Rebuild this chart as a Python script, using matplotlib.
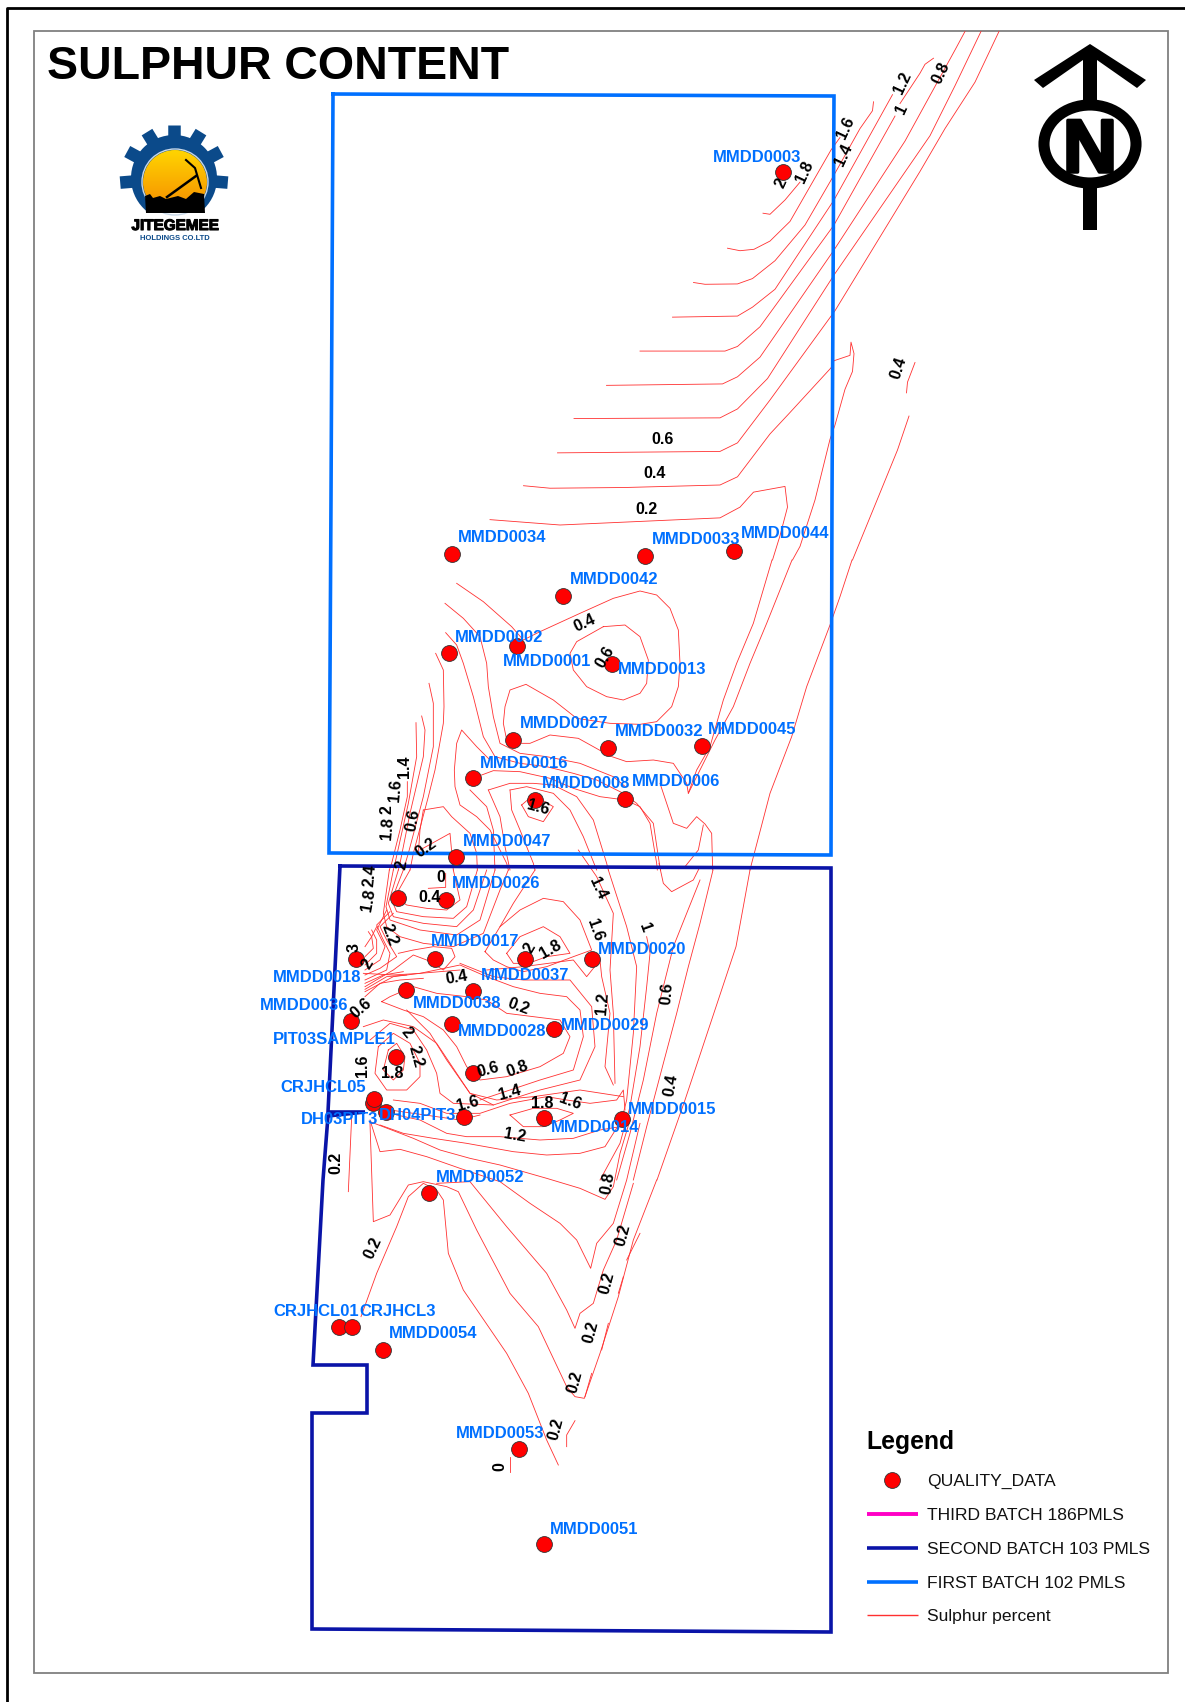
import numpy as np
import matplotlib
matplotlib.use("Agg")
import matplotlib.pyplot as plt
import matplotlib.patheffects as pe
from matplotlib.colors import LinearSegmentedColormap
from matplotlib.patches import Ellipse, Polygon, Rectangle, Circle
from matplotlib.lines import Line2D

plt.rcParams['font.family'] = ['Liberation Sans', 'DejaVu Sans']

# drill holes, picture pixels
hole_x = [783, 452, 645, 734, 563, 517, 449, 612, 513, 608, 702, 473, 535, 625, 456, 398, 446, 435, 525, 592, 356,
          406, 473, 351, 452, 554, 396, 473, 373, 374, 386, 464, 544, 622, 429, 339, 352, 383, 519, 544]
hole_y = [172, 554, 556, 551, 596, 646, 653, 664, 740, 748, 746, 778, 800, 799, 857, 898, 900, 959, 959, 959, 959,
          990, 991, 1021, 1024, 1029, 1057, 1073, 1103, 1099, 1112, 1117, 1118, 1119, 1193, 1327, 1327, 1350, 1449, 1544]

hole_names = ["MMDD0003", "MMDD0034", "MMDD0033", "MMDD0044", "MMDD0042", "MMDD0002", "MMDD0001", "MMDD0013",
              "MMDD0027", "MMDD0032", "MMDD0045", "MMDD0016", "MMDD0008", "MMDD0006", "MMDD0047", "MMDD0026",
              "MMDD0017", "MMDD0020", "MMDD0018", "MMDD0037", "MMDD0038", "MMDD0036", "MMDD0028", "MMDD0029",
              "PIT03SAMPLE1", "CRJHCL05", "DH03PIT3", "DH04PIT3", "MMDD0015", "MMDD0014", "MMDD0052", "CRJHCL01",
              "CRJHCL3", "MMDD0054", "MMDD0053", "MMDD0051"]
name_x = [713, 458, 652, 741, 570, 455, 503, 618, 520, 615, 708, 480, 542, 632, 463, 452, 431, 598, 273, 481, 413,
          260, 458, 561, 273, 280, 301, 379, 628, 551, 436, 273, 359, 389, 456, 550]
name_y = [157, 538, 540, 534, 580, 638, 662, 670, 723, 732, 729, 763, 784, 782, 841, 884, 942, 950, 977, 976, 1003,
          1005, 1032, 1025, 1040, 1088, 1120, 1116, 1109, 1128, 1178, 1311, 1311, 1334, 1433, 1529]

# contour labels: text, x, y, angle
contour_text = ["0.6", "0.4", "0.2", "0.8", "1.2", "1", "1.6", "1.4", "1.8", "2", "0.4",
                "0.4", "0.6", "1.6", "1.4", "1.6", "2", "1.8", "0.6", "0.2",
                "2", "2.4", "1.8", "0", "0.4", "1.4", "1.6", "1", "2.2", "3", "2", "2", "1.8",
                "0.4", "0.2", "1.2", "0.6", "0.6", "2", "2.2", "1.8", "1.6", "0.6", "0.8", "0.4",
                "1.4", "1.6", "1.8", "1.6", "1.2",
                "0.2", "0.8", "0.2", "0.2", "0.2", "0.2", "0.2", "0.2", "0"]
contour_x = [663, 655, 646, 941, 903, 902, 846, 844, 805, 781, 899,
             585, 605, 538, 404, 395, 387, 387, 413, 426,
             402, 370, 369, 441, 430, 598, 595, 645, 390, 354, 368, 530, 550,
             457, 518, 602, 667, 361, 407, 416, 392, 363, 488, 517, 671,
             510, 468, 542, 570, 515,
             336, 608, 623, 373, 607, 591, 575, 556, 500]
contour_y = [439, 474, 509, 73, 83, 109, 128, 155, 172, 183, 368,
             623, 657, 808, 767, 790, 810, 828, 820, 848,
             865, 875, 900, 877, 897, 888, 930, 928, 935, 948, 964, 948, 950,
             978, 1007, 1003, 993, 1008, 1033, 1057, 1074, 1066, 1070, 1069, 1085,
             1093, 1104, 1104, 1102, 1136,
             1163, 1183, 1235, 1248, 1283, 1332, 1382, 1429, 1467]
contour_rot = [0, 0, 0, 65, 65, 65, 65, 65, 65, 65, 72,
               25, 60, -15, 90, 85, 90, 85, 80, 35,
               80, 85, 80, 0, 0, -65, -70, -70, -70, 90, 60, 60, 30,
               10, -20, 85, 85, 40, -50, -75, 0, 90, 15, 20, 80,
               15, 15, 0, -20, -10,
               90, 80, 75, 65, 75, 75, 75, 75, 90]

# batch outlines
first_batch = [(333, 94), (834, 96), (832, 500), (831, 855), (329, 853), (331, 500), (333, 94)]
second_batch = [(340, 866), (831, 868), (831, 1632), (312, 1629), (312, 1413), (367, 1413), (367, 1365), (313, 1365),
                (323, 1180), (328, 1116), (365, 1112), (328, 1112), (340, 866)]

# sulphur contours
lines_top = [
    [(180, 1455), (320, 1470), (480, 1460), (640, 1450), (680, 1420), (707, 1378), (770, 1362), (775, 1420), (760, 1500), (745, 1568)],
    [(247, 1360), (300, 1367), (450, 1365), (640, 1358), (675, 1335), (740, 1215), (780, 1155), (862, 1030), (868, 1010), (900, 995), (902, 958), (908, 990), (905, 1040), (890, 1090), (870, 1190), (860, 1230), (830, 1400), (800, 1530), (785, 1568)],
    [(315, 1268), (640, 1264), (675, 1240), (740, 1120), (870, 870), (1040, 480), (1090, 360), (1150, 230), (1198, 88)],
    [(348, 1172), (640, 1170), (675, 1145), (735, 1060), (868, 770), (1060, 380), (1110, 240), (1162, 88)],
    [(413, 1079), (645, 1075), (675, 1055), (720, 1000), (868, 700), (1010, 395), (1110, 140), (1130, 88)],
    [(480, 983), (650, 983), (675, 970), (720, 915), (868, 630), (990, 325)],
    [(1000, 290), (1040, 205), (1050, 180), (1067, 163)],
    [(545, 888), (675, 885), (705, 860), (750, 810), (868, 560), (985, 265)],
    [(587, 791), (610, 796), (675, 795), (705, 780), (750, 730), (810, 630), (868, 490), (920, 360), (945, 310), (947, 285)],
    [(655, 695), (680, 702), (708, 698), (740, 675), (780, 620), (862, 420), (880, 385)],
    [(726, 597), (740, 600), (770, 560), (800, 510)],
    [(1030, 1015), (1015, 1070), (1013, 1100)],
    [(1018, 1165), (995, 1260), (960, 1380), (905, 1568)],
]
lines_mid = [
    [(1356, 90), (1300, 280), (1250, 400), (1210, 510), (1170, 650), (1130, 720), (1105, 790), (1100, 760), (1060, 700), (1000, 690), (920, 695), (870, 678), (820, 650), (775, 625), (690, 615), (630, 640), (595, 640)],
    [(1416, 90), (1340, 280), (1290, 400), (1240, 530), (1185, 630), (1130, 740), (1105, 790)],
    [(410, 160), (490, 215), (575, 290), (610, 330), (660, 305), (780, 250), (880, 205), (960, 183), (1010, 195), (1050, 235), (1075, 300), (1080, 400), (1075, 470), (1055, 530), (1010, 575), (960, 583), (870, 580), (770, 565), (700, 510), (618, 463), (570, 480), (555, 530), (550, 580), (560, 630)],
    [(850, 290), (915, 285), (960, 320), (985, 390), (980, 460), (960, 490), (910, 510), (860, 500), (800, 470), (760, 420), (750, 370), (770, 335), (850, 290)],
    [(375, 220), (430, 265), (480, 320), (500, 400), (505, 470), (520, 560), (540, 640), (600, 670), (680, 680), (780, 700), (880, 740), (916, 770)],
    [(377, 308), (410, 345), (430, 400), (460, 500), (490, 620), (525, 680), (600, 700), (680, 710), (760, 730), (830, 750), (910, 790), (950, 820), (1000, 880), (1018, 1000), (1022, 1020)],
    [(347, 370), (370, 420), (372, 530), (370, 580), (345, 720), (325, 800), (280, 970), (270, 1020)],
    [(327, 460), (340, 520), (340, 650), (310, 800), (265, 970), (250, 1020)],
    [(305, 558), (315, 600), (310, 680), (270, 850), (240, 1000), (235, 1020)],
    [(288, 578), (290, 680), (265, 820), (225, 1000), (220, 1020)],
    [(262, 755), (262, 800), (240, 900), (215, 1000), (208, 1020)],
    [(510, 690), (470, 650), (425, 600), (410, 640), (403, 720), (405, 770), (420, 825), (470, 860), (510, 900), (560, 1000), (565, 1020)],
    [(458, 745), (520, 722), (600, 725), (690, 745), (760, 775), (840, 800), (916, 810), (960, 830), (990, 880), (1010, 1000), (1012, 1020)],
    [(450, 780), (500, 830), (520, 900), (525, 1020)],
    [(505, 780), (570, 760), (640, 760), (700, 765), (770, 800), (820, 870), (860, 1000), (865, 1020)],
    [(505, 780), (540, 860), (555, 950), (570, 1020)],
    [(570, 780), (620, 770), (700, 790), (750, 840), (790, 920), (830, 1020)],
    [(570, 780), (575, 840), (600, 900), (640, 1000), (645, 1020)],
    [(605, 825), (640, 795), (700, 830), (670, 875), (625, 860), (605, 825)],
    [(1020, 760), (1040, 820), (1060, 880), (1100, 895), (1130, 860), (1155, 882), (1175, 910), (1178, 1020)],
    [(1150, 885), (1135, 960), (1095, 1010)],
    [(310, 840), (370, 830), (395, 860), (450, 910), (470, 970), (472, 1020)],
    [(310, 840), (300, 900), (295, 970)],
    [(300, 960), (390, 910), (400, 1020)],
    [(1596, 90), (1560, 200), (1530, 285), (1460, 470), (1415, 620), (1350, 790), (1295, 1000), (1290, 1020)],
]
lines_low = [
    [(1410, 270), (1368, 500), (1215, 960), (1131, 1200)],
    [(1299, 270), (1260, 430), (1225, 560), (1190, 700), (1150, 850), (1100, 1040), (1060, 1200)],
    [(1260, 300), (1180, 500), (1130, 700), (1090, 900), (1050, 1060), (1010, 1200)],
    [(1100, 470), (1110, 520), (1100, 620), (1080, 800), (1050, 980), (1020, 1090), (960, 1200)],
    [(985, 270), (1040, 440), (1070, 560), (1060, 760), (1040, 960), (1030, 1000)],
    [(895, 210), (950, 290), (1000, 400), (990, 570), (1000, 700), (1005, 910)],
    [(1137, 250), (1150, 310), (1175, 335), (1240, 300), (1260, 260)],
    [(680, 520), (720, 470), (790, 440), (840, 470), (870, 520), (800, 530), (745, 550), (700, 550), (680, 520)],
    [(615, 515), (660, 440), (720, 390), (790, 355), (850, 365), (900, 420), (935, 510), (880, 530), (800, 560), (730, 575), (680, 560), (640, 540), (615, 515)],
    [(765, 270), (700, 370), (660, 440)],
    [(390, 270), (345, 350), (380, 375), (440, 385), (500, 390), (540, 360), (520, 270)],
    [(370, 270), (335, 360), (350, 395), (430, 410), (520, 415), (560, 380), (592, 270)],
    [(355, 270), (325, 370), (340, 410), (430, 430), (530, 440), (580, 390), (620, 270)],
    [(340, 270), (318, 380), (330, 420), (420, 450), (530, 465), (600, 420), (645, 270)],
    [(445, 325), (497, 322), (497, 280)],
    [(328, 270), (310, 400), (320, 440), (360, 470), (430, 490), (520, 500), (610, 460), (660, 330), (685, 270)],
    [(355, 520), (400, 510), (460, 500), (515, 505), (525, 530), (490, 570), (440, 540), (400, 525), (340, 570), (255, 620)],
    [(255, 585), (300, 565), (350, 530), (320, 480), (300, 440), (340, 400)],
    [(255, 600), (320, 570), (330, 520), (305, 470), (290, 435), (330, 395)],
    [(255, 570), (300, 540), (315, 500), (290, 450), (320, 390)],
    [(255, 555), (290, 520), (290, 480), (275, 450)],
    [(255, 530), (280, 505), (275, 470), (265, 455)],
    [(255, 500), (275, 470), (290, 440)],
    [(255, 610), (310, 585), (370, 575)],
    [(255, 628), (320, 590), (380, 585)],
    [(255, 635), (340, 590), (420, 580), (540, 570)],
    [(255, 650), (300, 610), (360, 600), (430, 595)],
    [(250, 580), (340, 585), (420, 580), (540, 555), (620, 590), (700, 620), (780, 640), (860, 650), (900, 690), (910, 770), (880, 870), (780, 900), (600, 960)],
    [(305, 665), (330, 650), (400, 620), (470, 640), (560, 650), (620, 660), (680, 700), (760, 710), (840, 720), (870, 770), (850, 820), (780, 860), (680, 890), (600, 900), (560, 860), (530, 800), (490, 750), (430, 710), (370, 690), (305, 665)],
    [(540, 550), (640, 590), (730, 600), (870, 600), (935, 680), (945, 800), (900, 900), (780, 930), (640, 975), (570, 940), (500, 840), (450, 760), (380, 690)],
    [(620, 570), (730, 560), (880, 540), (920, 590), (960, 540), (965, 590), (990, 700), (975, 860), (1000, 915)],
    [(325, 810), (350, 790), (375, 830), (370, 870), (340, 900), (310, 870), (325, 810)],
    [(295, 800), (340, 760), (390, 790), (420, 850), (420, 890), (380, 930), (320, 930), (285, 880), (295, 800)],
    [(270, 780), (330, 730), (400, 750), (440, 810), (470, 880), (480, 940), (520, 970), (640, 975)],
    [(250, 740), (310, 720), (400, 740), (470, 790), (530, 880), (570, 940), (650, 960), (760, 950), (900, 930), (1030, 950)],
    [(340, 960), (420, 970), (500, 1000), (600, 1000), (690, 970), (800, 950), (860, 960), (930, 970), (1010, 960), (1030, 930), (1035, 990)],
    [(690, 1005), (760, 985), (830, 985), (880, 1000), (840, 1020), (790, 1040), (730, 1040), (690, 1005)],
    [(330, 990), (400, 1000), (470, 1010), (540, 1020), (600, 1005)],
    [(350, 1005), (420, 1020), (500, 1060), (560, 1070), (660, 1070), (780, 1080), (880, 1075), (960, 1050), (1020, 1040)],
]
lines_south = [
    [(300, 75), (370, 100), (460, 115), (560, 130), (700, 155), (800, 165), (900, 160), (975, 140), (1000, 100), (1025, 60)],
    [(270, 65), (400, 115), (480, 150), (570, 175), (660, 195), (800, 235), (900, 265), (975, 298), (1000, 260), (1020, 160), (1050, 60)],
    [(270, 60), (300, 155), (360, 148), (440, 170), (540, 205), (660, 245), (750, 310), (840, 370), (890, 420), (932, 505), (950, 430), (1000, 370), (1040, 240), (1080, 70)],
    [(270, 70), (280, 365), (330, 345), (385, 255), (430, 245), (500, 260), (535, 275), (590, 390), (690, 580), (775, 680), (860, 860), (885, 890), (913, 895), (960, 760), (1015, 590), (1060, 420), (1130, 240)],
    [(470, 250), (570, 245), (680, 380), (800, 520), (860, 630), (885, 685), (900, 640), (940, 610), (970, 510), (1010, 420), (1060, 250)],
    [(243, 650), (290, 520), (350, 380), (385, 290), (430, 250), (470, 270), (490, 300), (505, 460), (550, 570), (680, 760), (745, 880), (800, 1020), (835, 1095)],
    [(885, 962), (860, 1005), (860, 1040)],
    [(690, 1070), (690, 1115)],
    [(215, 50), (205, 275)],
    [(1080, 400), (1040, 480)],
    [(1030, 530), (1015, 580)],
    [(985, 670), (965, 750)],
    [(935, 820), (915, 890)],
]

legend_names = ["QUALITY_DATA", "THIRD BATCH 186PMLS", "SECOND BATCH 103 PMLS", "FIRST BATCH 102 PMLS", "Sulphur percent"]
legend_y = [1481, 1515, 1549, 1583, 1616]

BLUE = "#0070FF"
NAVY = "#0A14A8"
RED = "#FF3030"

fig = plt.figure(figsize=(11.85, 17.02), dpi=100)
ax = fig.add_axes([0, 0, 1, 1])
ax.set_axis_off()

# frames
ax.plot([7, 7, 1185], [1702, 8, 8], color="black", lw=2)
ax.add_patch(Rectangle((34, 31), 1134, 1642, fill=False, ec="#808080", lw=1.3))

ax.text(47, 67, "SULPHUR CONTENT", fontsize=33.5, fontweight="bold", va="center", ha="left")

# contours
for group, x0, y0, sx, sy in [(lines_top, 400, 0, 2, 2.8), (lines_mid, 320, 530, 3, 3),
                              (lines_low, 280, 780, 3, 3), (lines_south, 280, 1100, 3, 3)]:
    for seg in group:
        pts = np.array(seg, dtype=float)
        ax.plot(x0 + pts[:, 0] / sx, y0 + pts[:, 1] / sy, color=RED, lw=0.6, zorder=2)

# batches
xs, ys = zip(*first_batch)
ax.plot(xs, ys, color=BLUE, lw=2.6, solid_joinstyle="miter", zorder=3)
xs, ys = zip(*second_batch)
ax.plot(xs, ys, color=NAVY, lw=2.6, solid_joinstyle="miter", zorder=3)

ax.scatter(hole_x, hole_y, s=130, c="#FF0000", edgecolors="#333333", linewidths=0.6, zorder=4)

for t, x, y, r in zip(contour_text, contour_x, contour_y, contour_rot):
    ax.text(x, y, t, fontsize=11.5, fontweight="bold", rotation=r, ha="center", va="center", color="black", zorder=5)

for t, x, y in zip(hole_names, name_x, name_y):
    ax.text(x, y, t, fontsize=12, fontweight="bold", ha="left", va="center", color=BLUE, zorder=6)

# north arrow
ax.add_patch(Polygon([(1090, 44), (1146, 80), (1137, 88), (1097, 60), (1097, 105), (1083, 105), (1083, 60),
                      (1043, 88), (1034, 80)], closed=True, fc="black", ec="none"))
ax.add_patch(Rectangle((1083, 180), 14, 50, fc="black", ec="none"))
ax.add_patch(Ellipse((1090, 144), 92, 78, fc="white", ec="black", lw=8))
ax.text(1090, 145, "N", fontsize=54, fontweight="bold", ha="center", va="center_baseline", color="black",
        path_effects=[pe.withStroke(linewidth=2.5, foreground="black")])

# logo
gear = "#0B4A8A"
for ang in [90, 60, 120, 30, 150, -5, 185]:
    a = np.deg2rad(ang)
    ax.plot([174 + 38 * np.cos(a), 174 + 54 * np.cos(a)], [178 - 38 * np.sin(a), 178 - 53 * np.sin(a)],
            color=gear, lw=9, solid_capstyle="butt", zorder=1)
ax.add_patch(Circle((174, 178), 43, fc=gear, ec="none", zorder=1))
ax.add_patch(Rectangle((115, 213), 120, 30, fc="white", ec="none", zorder=1.5))
ax.add_patch(Ellipse((175, 182), 66, 66, fc="none", ec="#C8D8E8", lw=1, zorder=2))
grad = np.linspace(0, 1, 64).reshape(-1, 1)
im = ax.imshow(grad, extent=(141, 209, 213, 150), cmap=LinearSegmentedColormap.from_list("sun", ["#FFD400", "#F58A00"]),
               aspect="auto", zorder=2)
im.set_clip_path(Ellipse((175, 182), 64, 64, transform=ax.transData))
ax.add_patch(Polygon([(145, 196), (150, 194), (153, 198), (160, 196), (166, 199), (178, 196), (186, 199), (194, 192),
                      (204, 194), (205, 213), (146, 213)], closed=True, fc="black", ec="none", zorder=3))
ax.plot([167, 196], [197, 176], color="black", lw=1.8, zorder=3)
ax.plot([186, 195, 201], [160, 168, 188], color="black", lw=1.5, zorder=3)
ax.text(175, 226, "JITEGEMEE", fontsize=11, fontweight="bold", ha="center", va="center", color="black",
        path_effects=[pe.withStroke(linewidth=0.8, foreground="black")])
ax.text(175, 238, "HOLDINGS CO.LTD", fontsize=5.5, fontweight="bold", ha="center", va="center", color=gear)

# legend, drawn by hand like the map layout
ax.text(866, 1442, "Legend", fontsize=17.8, fontweight="bold", ha="left", va="center")
ax.scatter([892], [legend_y[0] - 1], s=130, c="#FF0000", edgecolors="#333333", linewidths=0.6, zorder=4)
for y, col, w in zip(legend_y[1:], ["#FF00C5", NAVY, BLUE, RED], [2.8, 2.6, 2.6, 1.0]):
    ax.add_line(Line2D([867, 918], [y - 1, y - 1], color=col, lw=w, solid_capstyle="butt"))
for t, y in zip(legend_names, legend_y):
    ax.text(927, y, t, fontsize=12.6, ha="left", va="center", color="#111111")

ax.set_xlim(0, 1185)
ax.set_ylim(1702, 0)
fig.savefig("out.png", dpi=100)
